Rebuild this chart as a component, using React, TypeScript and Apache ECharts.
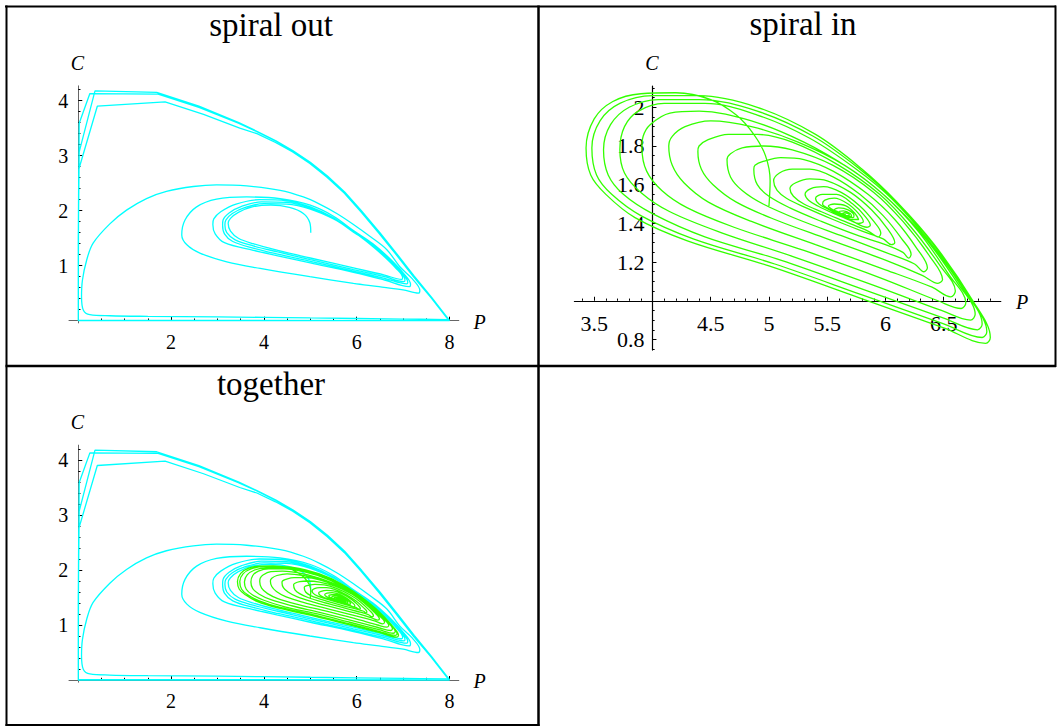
import React, { useEffect, useRef } from "react";
import * as echarts from "echarts";

// ---------------- tick labels ----------------
const outXTicks = [2, 4, 6, 8];
const outYTicks = [1, 2, 3, 4];
const inXTicks = [3.5, 4.5, 5, 5.5, 6, 6.5];
const inYTicks = [0.8, 1.2, 1.4, 1.6, 1.8, 2];

// ---------------- spiral out (P, C) ----------------
const spiralOutStart = [[5.01,1.6],[4.99,1.78],[4.85,1.95],[4.55,2.06],[4.15,2.1],[3.75,2.07],[3.45,1.97],[3.28,1.86],[3.23,1.77]];
const spiralOutLoop1 = [[3.28,1.63],[3.45,1.5],[3.77,1.4],[4.3,1.28],[5.0,1.14],[5.93,0.96],[6.6,0.83],[6.97,0.75],[6.99,0.78],[6.85,0.95],[6.55,1.2],[6.2,1.45],[5.93,1.62],[5.5,1.85],[5.0,2.03],[4.49,2.12],[4.0,2.13],[3.6,2.06],[3.32,1.95],[3.18,1.83],[3.16,1.74]];
const spiralOutLoop2 = [[3.2,1.6],[3.38,1.47],[3.77,1.36],[4.3,1.25],[5.0,1.11],[5.93,0.93],[6.6,0.8],[7.02,0.71],[7.04,0.74],[6.9,0.92],[6.6,1.17],[6.25,1.43],[5.93,1.61],[5.5,1.86],[5.0,2.05],[4.49,2.15],[3.95,2.16],[3.52,2.08],[3.25,1.96],[3.12,1.83],[3.11,1.74]];
const spiralOutLoop3 = [[3.15,1.58],[3.33,1.44],[3.77,1.32],[4.3,1.21],[5.0,1.08],[5.93,0.9],[6.6,0.77],[7.08,0.67],[7.1,0.7],[6.95,0.89],[6.65,1.15],[6.3,1.41],[5.93,1.61],[5.5,1.87],[5.0,2.07],[4.49,2.18],[3.9,2.2],[3.4,2.12],[3.07,1.98],[2.92,1.85],[2.9,1.75]];
const spiralOutLoop4 = [[2.95,1.58],[3.15,1.42],[3.77,1.28],[4.3,1.18],[5.0,1.05],[5.93,0.88],[6.6,0.74],[7.13,0.62],[7.16,0.66],[7.0,0.87],[6.7,1.14],[6.35,1.4],[5.93,1.64],[5.5,1.9],[5.0,2.1],[4.35,2.22],[3.63,2.25],[2.98,2.21],[2.55,2.07],[2.3,1.83],[2.23,1.56]];
const spiralOutLoop5 = [[2.34,1.38],[2.62,1.23],[3.2,1.07],[3.92,0.95],[4.99,0.8],[5.93,0.68],[6.48,0.62],[7.0,0.56],[7.33,0.5],[7.36,0.55],[7.2,0.76],[6.93,0.98],[6.65,1.29],[6.29,1.53],[5.93,1.75],[5.57,1.95],[5.2,2.12],[4.85,2.25],[4.35,2.37],[3.63,2.45],[2.98,2.47],[2.48,2.44],[1.9,2.35],[1.47,2.22],[1.04,2.01],[0.68,1.76],[0.32,1.41],[0.18,1.1],[0.09,0.74],[0.07,0.44],[0.11,0.19],[0.25,0.11],[0.68,0.09],[1.5,0.08],[3.0,0.07],[5.0,0.05],[7.0,0.03],[7.97,0.02]];
const spiralOutBoundary = [
  [7.97,0.02],[7.6,0.42],[7.22,0.8],[6.85,1.2],[6.48,1.59],[6.1,1.97],[5.73,2.32],[5.36,2.61],[4.99,2.86],[4.62,3.07],[4.25,3.24],[3.85,3.4],[3.48,3.5],[2.7,3.75],[1.87,3.98],[0.41,3.9],[0.01,2.75],[0.0,1.4],[0.0,0.01],[3.0,0.005],[8.0,0.0],
  [7.62,0.42],[7.24,0.81],[6.87,1.21],[6.5,1.6],[6.12,1.98],[5.75,2.33],[5.38,2.62],[5.01,2.87],[4.64,3.08],[4.27,3.26],[3.87,3.43],[3.45,3.59],[2.6,3.88],[1.72,4.12],[0.25,4.13],[0.02,3.59],[0.005,1.8],[0.0,0.0],[4.0,0.0],[8.0,0.005],
  [7.61,0.43],[7.23,0.82],[6.86,1.22],[6.49,1.61],[6.11,1.99],[5.74,2.34],[5.37,2.63],[5.0,2.88],[4.63,3.09],[4.26,3.27],[3.86,3.44],[3.46,3.6],[2.6,3.9],[1.69,4.15],[0.36,4.18],[0.02,3.07],[0.0,1.5],[0.0,0.0]
];

// ---------------- spiral in (P, C) ----------------
const spiralInStart = [[5.0,1.49],[5.01,1.62],[4.97,1.75],[4.87,1.86],[4.72,1.96],[4.5,2.04],[4.2,2.075],[3.9,2.07],[3.66,2.03],[3.5,1.94],[3.43,1.79]];
const spiralInLoop1 = [[3.47,1.65],[3.6,1.55],[3.85,1.43],[4.3,1.31],[5.0,1.18],[5.8,1.01],[6.5,0.86],[6.86,0.78],[6.9,0.81],[6.75,1.0],[6.42,1.29],[6.1,1.51],[5.8,1.68],[5.4,1.86],[4.9,2.0],[4.4,2.06],[4.0,2.06],[3.72,2.02],[3.55,1.93],[3.48,1.79]];
const spiralInLoop2 = [[3.52,1.65],[3.65,1.55],[3.9,1.44],[4.35,1.32],[5.05,1.19],[5.8,1.03],[6.5,0.88],[6.83,0.81],[6.87,0.84],[6.72,1.02],[6.4,1.3],[6.08,1.52],[5.78,1.68],[5.38,1.85],[4.9,1.98],[4.4,2.04],[4.05,2.04],[3.8,2.0],[3.64,1.91],[3.58,1.78]];
const spiralInLoop3 = [[3.62,1.65],[3.75,1.55],[4.0,1.45],[4.45,1.33],[5.1,1.21],[5.85,1.05],[6.5,0.91],[6.79,0.85],[6.83,0.88],[6.68,1.05],[6.36,1.32],[6.05,1.53],[5.75,1.68],[5.35,1.84],[4.9,1.96],[4.45,2.02],[4.1,2.02],[3.88,1.98],[3.76,1.9],[3.72,1.78]];
const spiralInLoop4 = [[3.76,1.66],[3.9,1.56],[4.15,1.46],[4.6,1.35],[5.2,1.23],[5.9,1.08],[6.48,0.95],[6.73,0.9],[6.77,0.93],[6.62,1.09],[6.32,1.34],[6.0,1.54],[5.7,1.68],[5.3,1.82],[4.85,1.93],[4.4,1.98],[4.15,1.97],[3.98,1.91],[3.92,1.85],[3.91,1.79]];
const spiralInLoop5 = [[3.95,1.67],[4.08,1.57],[4.3,1.48],[4.7,1.38],[5.3,1.26],[5.95,1.12],[6.45,1.0],[6.65,0.96],[6.69,0.99],[6.55,1.13],[6.28,1.36],[5.98,1.55],[5.65,1.7],[5.25,1.82],[4.85,1.9],[4.5,1.93],[4.28,1.9],[4.17,1.85],[4.14,1.8]];
const spiralInLoop6 = [[4.17,1.7],[4.27,1.61],[4.48,1.51],[4.85,1.41],[5.4,1.29],[6.0,1.16],[6.4,1.07],[6.56,1.02],[6.6,1.05],[6.47,1.18],[6.22,1.38],[5.95,1.55],[5.6,1.7],[5.2,1.82],[4.9,1.86],[4.65,1.86],[4.47,1.83],[4.4,1.8],[4.39,1.77]];
const spiralInLoop7 = [[4.42,1.68],[4.52,1.6],[4.72,1.51],[5.05,1.42],[5.5,1.32],[6.0,1.21],[6.32,1.13],[6.45,1.09],[6.49,1.11],[6.38,1.23],[6.15,1.41],[5.9,1.56],[5.55,1.7],[5.2,1.78],[4.95,1.8],[4.77,1.79],[4.67,1.76],[4.64,1.73]];
const spiralInLoop8 = [[4.67,1.64],[4.77,1.57],[4.95,1.5],[5.25,1.42],[5.65,1.33],[6.0,1.25],[6.25,1.19],[6.33,1.15],[6.36,1.17],[6.27,1.27],[6.08,1.42],[5.85,1.55],[5.55,1.67],[5.3,1.73],[5.1,1.74],[4.95,1.72],[4.88,1.7],[4.87,1.68]];
const spiralInLoop9 = [[4.9,1.6],[5.0,1.54],[5.18,1.48],[5.45,1.41],[5.75,1.34],[6.0,1.29],[6.15,1.25],[6.2,1.22],[6.22,1.24],[6.14,1.32],[5.98,1.44],[5.78,1.55],[5.55,1.64],[5.35,1.68],[5.2,1.68],[5.09,1.66],[5.04,1.62]];
const spiralInLoop10 = [[5.07,1.57],[5.15,1.53],[5.32,1.48],[5.55,1.42],[5.8,1.36],[5.98,1.32],[6.05,1.29],[6.08,1.3],[6.02,1.37],[5.88,1.47],[5.7,1.56],[5.5,1.62],[5.35,1.63],[5.23,1.61],[5.18,1.58]];
const spiralInLoop11 = [[5.21,1.54],[5.3,1.5],[5.45,1.46],[5.65,1.41],[5.85,1.36],[5.94,1.33],[5.96,1.35],[5.9,1.41],[5.78,1.49],[5.62,1.56],[5.47,1.59],[5.36,1.58],[5.31,1.55]];
const spiralInLoop12 = [[5.34,1.52],[5.42,1.49],[5.56,1.45],[5.72,1.41],[5.84,1.38],[5.87,1.39],[5.82,1.44],[5.72,1.5],[5.58,1.55],[5.46,1.55],[5.4,1.53]];
const spiralInLoop13 = [[5.43,1.5],[5.52,1.47],[5.65,1.43],[5.77,1.4],[5.81,1.41],[5.77,1.45],[5.68,1.5],[5.56,1.53],[5.48,1.52],[5.46,1.5]];
const spiralInCore = [[5.5,1.48],[5.6,1.45],[5.72,1.42],[5.77,1.42],[5.74,1.45],[5.66,1.49],[5.56,1.5],[5.51,1.49],[5.55,1.47],[5.64,1.44],[5.72,1.43],[5.73,1.44],[5.68,1.47],[5.6,1.48],[5.56,1.47],[5.59,1.46],[5.66,1.44],[5.71,1.435],[5.7,1.45],[5.64,1.465],[5.6,1.46],[5.62,1.45],[5.68,1.44],[5.69,1.445],[5.65,1.455],[5.63,1.45],[5.66,1.445]];

// ---------------- styling / layout ----------------
const CYAN = "#00ffff";
const GREEN = "#33ff00";
const SERIF = "'Liberation Serif', 'Times New Roman', serif";
const TITLE_FONT = "'Liberation Serif', 'Times New Roman', serif";

function tickRange(start: number, end: number, step: number, exclude: number[]) {
  const out: number[] = [];
  const n = Math.round((end - start) / step);
  for (let i = 0; i <= n; i++) {
    const v = +(start + i * step).toFixed(4);
    if (!exclude.some((e) => Math.abs(e - v) < 1e-6)) out.push(v);
  }
  return out;
}

type Panel = {
  grid: { left: number; top: number; width: number; height: number };
  xr: [number, number];
  yr: [number, number];
  cross: [number, number];
  xMajor: number[];
  yMajor: number[];
  xMinor: number[];
  yMinor: number[];
  fontSize: number;
  axisColor: string;
  axisWidth: number;
  xMargin: number;
  yMargin: number;
};

const outGrid = { left: 69, top: 85.85, width: 389.8, height: 237.05 };
const panels: Panel[] = [
  {
    grid: outGrid,
    xr: [-0.2, 8.2], yr: [-0.04, 4.27], cross: [0, 0],
    xMajor: outXTicks, yMajor: outYTicks,
    xMinor: tickRange(0.5, 8, 0.5, outXTicks), yMinor: tickRange(0.2, 4.2, 0.2, outYTicks),
    fontSize: 20, axisColor: "#666", axisWidth: 1, xMargin: 11, yMargin: 10,
  },
  {
    grid: { left: 574.4, top: 86, width: 426.4, height: 264.1 },
    xr: [3.33, 6.99], yr: [0.745, 2.11], cross: [4, 1],
    xMajor: inXTicks, yMajor: inYTicks,
    xMinor: tickRange(3.4, 6.9, 0.1, [...inXTicks, 4]), yMinor: tickRange(0.75, 2.1, 0.05, [...inYTicks, 1]),
    fontSize: 22, axisColor: "#000", axisWidth: 1.2, xMargin: 12, yMargin: 8,
  },
  {
    grid: { ...outGrid, top: outGrid.top + 359.3 },
    xr: [-0.2, 8.2], yr: [-0.04, 4.27], cross: [0, 0],
    xMajor: outXTicks, yMajor: outYTicks,
    xMinor: tickRange(0.5, 8, 0.5, outXTicks), yMinor: tickRange(0.2, 4.2, 0.2, outYTicks),
    fontSize: 20, axisColor: "#666", axisWidth: 1, xMargin: 11, yMargin: 10,
  },
];

const fmt = (v: number) => String(+(+v).toFixed(3));

function buildOption() {
  const grids: any[] = [];
  const xAxes: any[] = [];
  const yAxes: any[] = [];
  panels.forEach((p, gi) => {
    grids.push({ ...p.grid, containLabel: false, outerBoundsMode: "none" });
    const offX = -((p.cross[1] - p.yr[0]) / (p.yr[1] - p.yr[0])) * p.grid.height;
    const offY = -((p.cross[0] - p.xr[0]) / (p.xr[1] - p.xr[0])) * p.grid.width;
    const common = { type: "value", gridIndex: gi, splitLine: { show: false }, minorTick: { show: false }, minorSplitLine: { show: false } };
    const labelStyle = { fontFamily: SERIF, fontSize: p.fontSize, color: "#000", formatter: fmt };
    xAxes.push({
      ...common, min: p.xr[0], max: p.xr[1], position: "bottom", offset: offX,
      axisLine: { show: true, onZero: false, lineStyle: { color: p.axisColor, width: p.axisWidth } },
      axisTick: { show: true, inside: true, length: 4, customValues: p.xMajor, lineStyle: { color: "#000", width: 1 } },
      axisLabel: { show: true, customValues: p.xMajor, margin: p.xMargin, ...labelStyle },
    });
    xAxes.push({
      ...common, min: p.xr[0], max: p.xr[1], position: "bottom", offset: offX,
      axisLine: { show: false, onZero: false },
      axisTick: { show: true, inside: true, length: 2.2, customValues: p.xMinor, lineStyle: { color: "#000", width: 1 } },
      axisLabel: { show: false },
    });
    yAxes.push({
      ...common, min: p.yr[0], max: p.yr[1], position: "left", offset: offY,
      axisLine: { show: true, onZero: false, lineStyle: { color: p.axisColor, width: p.axisWidth } },
      axisTick: { show: true, inside: true, length: 4, customValues: p.yMajor, lineStyle: { color: "#000", width: 1 } },
      axisLabel: { show: true, customValues: p.yMajor, margin: p.yMargin, ...labelStyle },
    });
    yAxes.push({
      ...common, min: p.yr[0], max: p.yr[1], position: "left", offset: offY,
      axisLine: { show: false, onZero: false },
      axisTick: { show: true, inside: true, length: 2.2, customValues: p.yMinor, lineStyle: { color: "#000", width: 1 } },
      axisLabel: { show: false },
    });
  });

  const spiralOutPath = [
    ...spiralOutStart, ...spiralOutLoop1, ...spiralOutLoop2, ...spiralOutLoop3, ...spiralOutLoop4, ...spiralOutLoop5,
  ];
  const spiralInPath = [
    ...spiralInStart, ...spiralInLoop1, ...spiralInLoop2, ...spiralInLoop3, ...spiralInLoop4, ...spiralInLoop5,
    ...spiralInLoop6, ...spiralInLoop7, ...spiralInLoop8, ...spiralInLoop9, ...spiralInLoop10, ...spiralInLoop11,
    ...spiralInLoop12, ...spiralInLoop13, ...spiralInCore,
  ];

  const line = (data: number[][], gi: number, color: string, smooth: number | boolean) => ({
    type: "line", data, xAxisIndex: gi * 2, yAxisIndex: gi * 2, symbol: "none", showSymbol: false,
    smooth, silent: true, clip: false, lineStyle: { color, width: 1.3 }, itemStyle: { color }, z: 3,
  });

  const series = [
    line(spiralOutPath, 0, CYAN, 0.35),
    line(spiralOutBoundary, 0, CYAN, false),
    line(spiralInPath, 1, GREEN, 0.35),
    line(spiralOutPath, 2, CYAN, 0.35),
    line(spiralOutBoundary, 2, CYAN, false),
    line(spiralInPath, 2, GREEN, 0.35),
  ];

  const txt = (text: string, x: number, y: number, size: number, family: string, italic = false) => ({
    type: "text", x, y, silent: true, z: 10,
    style: { text, fontSize: size, fontFamily: family, fontStyle: italic ? "italic" : "normal", fill: "#000", align: "center", verticalAlign: "middle" },
  });
  const ln = (x1: number, y1: number, x2: number, y2: number, w: number) => ({
    type: "line", silent: true, z: 10, shape: { x1, y1, x2, y2 }, style: { stroke: "#000", lineWidth: w },
  });

  const graphic = [
    ln(5, 6.5, 1056, 6.5, 2),
    ln(6.5, 5.5, 6.5, 726, 2),
    ln(5.5, 725, 539.5, 725, 2),
    ln(538.5, 5.5, 538.5, 726, 2.5),
    ln(5.5, 366, 1056, 366, 2.5),
    ln(1055.5, 5.5, 1055.5, 367, 2),
    txt("spiral out", 271, 24.5, 33, TITLE_FONT),
    txt("spiral in", 803, 24, 33, TITLE_FONT),
    txt("together", 271, 383.8, 33, TITLE_FONT),
    txt("C", 77.5, 63, 20, SERIF, true),
    txt("P", 479.5, 321.5, 20, SERIF, true),
    txt("C", 652, 63, 20, SERIF, true),
    txt("P", 1022, 301.5, 20, SERIF, true),
    txt("C", 77.5, 422, 20, SERIF, true),
    txt("P", 479.5, 681, 20, SERIF, true),
  ];

  return {
    animation: false,
    backgroundColor: "#ffffff",
    textStyle: { fontFamily: SERIF },
    grid: grids,
    xAxis: xAxes,
    yAxis: yAxes,
    series,
    graphic,
  };
}

export default function App() {
  const ref = useRef<HTMLDivElement>(null);
  useEffect(() => {
    const chart = echarts.init(ref.current!, null, { renderer: "svg" });
    chart.setOption(buildOption() as any);
    return () => chart.dispose();
  }, []);
  return (
    <div
      ref={ref}
      style={{ position: "absolute", left: 0, top: 0, width: 1058, height: 728, background: "#fff" }}
    />
  );
}
